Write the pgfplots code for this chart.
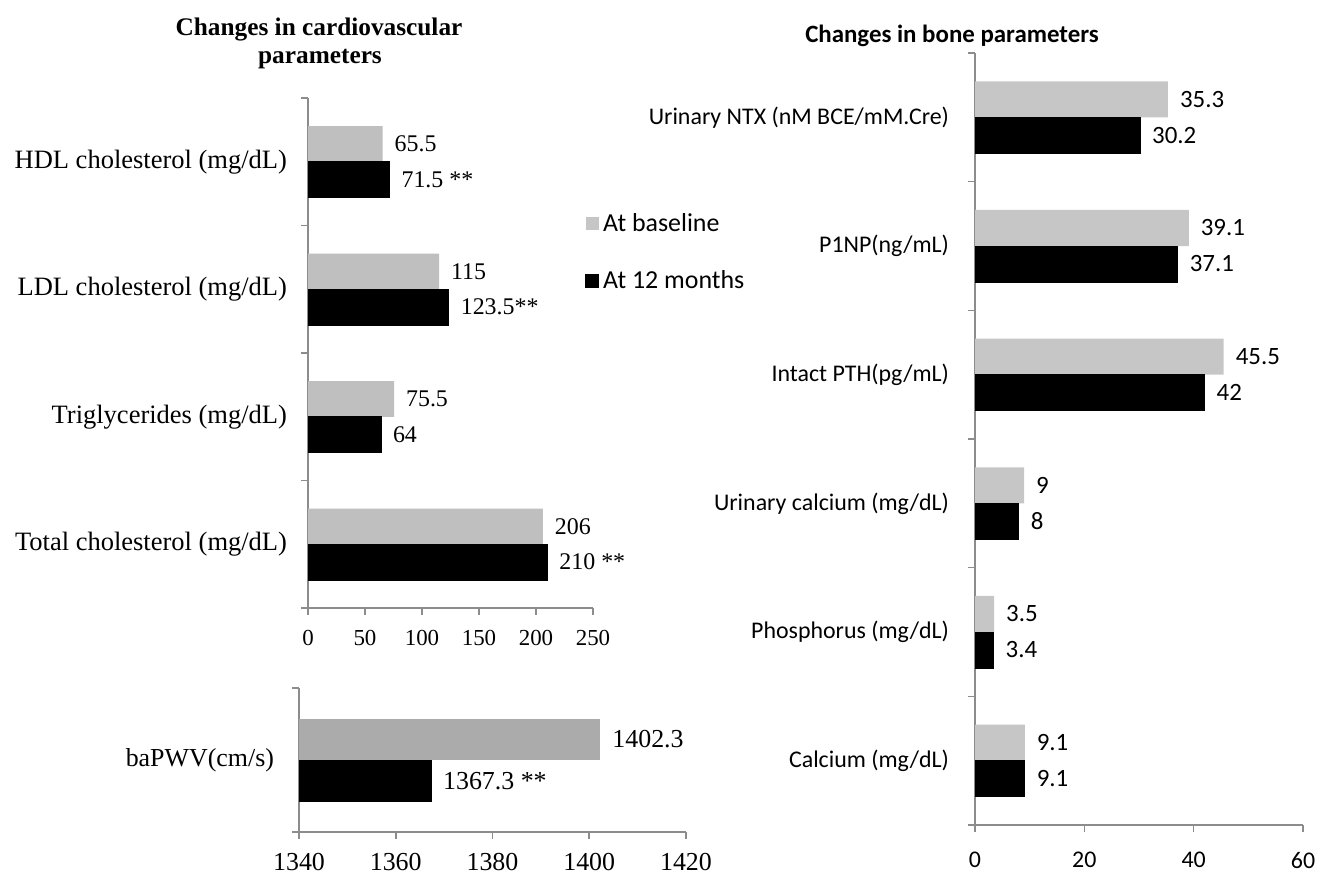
\documentclass[border=0pt]{standalone}
\usepackage{pgfplots}
\pgfplotsset{compat=1.18}
\usepackage{fontspec}
\setmainfont{Liberation Serif}
\newfontfamily\calibri{Carlito}
\definecolor{gA}{HTML}{BFBFBF}
\definecolor{gB}{HTML}{ABABAB}
\definecolor{gC}{HTML}{C6C6C6}
\definecolor{axgray}{HTML}{8C8C8C}
\pgfplotsset{
  mybase/.style={
    scale only axis, anchor=south west,
    axis lines*=left, axis line style={-, axgray, line width=0.8bp},
    tick style={axgray, line width=0.8bp}, tick align=outside, major tick length=3.5bp,
    /pgf/number format/assume math mode=true, /pgf/number format/1000 sep={},
    point meta=explicit symbolic, nodes near coords,
    nodes near coords style={anchor=west, xshift=2.5bp, text=black},
  }
}
\begin{document}
\begin{tikzpicture}
\path[use as bounding box] (0bp,0bp) rectangle (659.5bp,-437bp);
\node[anchor=base, font=\bfseries\fontsize{12.7}{15}\selectfont, inner sep=0] at (159.5bp,-17.5bp) {Changes in cardiovascular};
\node[anchor=base, font=\bfseries\fontsize{12.7}{15}\selectfont, inner sep=0] at (160bp,-31.5bp) {parameters};
\node[anchor=base, font=\calibri\bfseries\fontsize{12.5}{15}\selectfont, inner sep=0] at (476bp,-21bp) {Changes in bone parameters};

% cardiovascular
\begin{axis}[mybase, at={(154bp,-304bp)}, width=142.5bp, height=255bp,
  xmin=0, xmax=250, xtick={0,50,...,250},
  ymin=-0.5, ymax=3.5, ytick={-0.5,0.5,1.5,2.5,3.5}, yticklabels={},
  extra y ticks={0,1,2,3},
  extra y tick labels={Total cholesterol (mg/dL),Triglycerides (mg/dL),LDL cholesterol (mg/dL),HDL cholesterol (mg/dL)},
  extra y tick style={major tick length=0pt, yticklabel style={font=\fontsize{13.3}{16}\selectfont, xshift=-7bp}},
  xticklabel style={font=\fontsize{11.5}{14}\selectfont, yshift=-4bp},
  nodes near coords style={font=\fontsize{12}{14}\selectfont},
  clip=false]
\addplot[xbar, bar width=0.28, bar shift=0.14, fill=gA, draw=none,
  nodes near coords style={yshift=8.9bp}]
  coordinates {(206,0) [206] (75.5,1) [75.5] (115,2) [115] (65.5,3) [65.5]};
\addplot[xbar, bar width=0.28, bar shift=-0.14, fill=black, draw=black,
  nodes near coords style={yshift=-8.9bp}]
  coordinates {(210,0) [210 **] (64,1) [64] (123.5,2) [123.5**] (71.5,3) [71.5 **]};
\end{axis}

% baPWV
\begin{axis}[mybase, at={(149.5bp,-416bp)}, width=193.5bp, height=72bp,
  xmin=1340, xmax=1420, xtick={1340,1360,...,1420},
  ymin=-0.5, ymax=0.5, ytick={-0.5,0.5}, yticklabels={},
  extra y ticks={0}, extra y tick labels={baPWV(cm/s)},
  extra y tick style={major tick length=0pt, yticklabel style={font=\fontsize{13}{16}\selectfont, xshift=-9bp}},
  xticklabel style={font=\fontsize{13}{15}\selectfont, yshift=-3.8bp},
  nodes near coords style={font=\fontsize{13}{15}\selectfont},
  clip mode=individual]
\addplot[xbar, bar width=0.285, bar shift=0.143, fill=gB, draw=none,
  nodes near coords style={yshift=10.3bp}]
  coordinates {(1402.3,0) [1402.3]};
\addplot[xbar, bar width=0.285, bar shift=-0.143, fill=black, draw=black,
  nodes near coords style={yshift=-10.3bp}]
  coordinates {(1367.3,0) [1367.3 **]};
\end{axis}

% bone
\begin{axis}[mybase, at={(487.5bp,-412.5bp)}, width=164bp, height=386bp,
  xmin=0, xmax=60, xtick={0,20,40,60},
  ymin=-0.5, ymax=5.5, ytick={-0.5,0.5,1.5,2.5,3.5,4.5,5.5}, yticklabels={},
  extra y ticks={0,1,2,3,4,5},
  extra y tick labels={Calcium (mg/dL),Phosphorus (mg/dL),Urinary calcium (mg/dL),Intact PTH(pg/mL),P1NP(ng/mL),Urinary NTX (nM BCE/mM.Cre)},
  extra y tick style={major tick length=0pt, yticklabel style={font=\calibri\fontsize{12}{14}\selectfont, xshift=-9.5bp}},
  xticklabel style={font=\calibri\fontsize{12}{14}\selectfont, yshift=-6.5bp},
  nodes near coords style={font=\calibri\fontsize{12.5}{15}\selectfont},
  clip=false,
  legend image code/.code={\fill[#1] (0bp,-3.25bp) rectangle (6.5bp,3.25bp);},
  legend style={at={(-1.189,0.798)}, anchor=north west, draw=none, fill=none,
    font=\calibri\fontsize{13}{15}\selectfont, row sep=14bp, inner sep=0pt},
  legend cell align=left]
\addplot[xbar, bar width=0.28, bar shift=0.14, fill=gC, draw=none,
  nodes near coords style={yshift=9bp}]
  coordinates {(9.1,0) [9.1] (3.5,1) [3.5] (9,2) [9] (45.5,3) [45.5] (39.1,4) [39.1] (35.3,5) [35.3]};
\addlegendentry{At baseline}
\addplot[xbar, bar width=0.28, bar shift=-0.14, fill=black, draw=black,
  nodes near coords style={yshift=-9bp}]
  coordinates {(9.1,0) [9.1] (3.4,1) [3.4] (8,2) [8] (42,3) [42] (37.1,4) [37.1] (30.2,5) [30.2]};
\addlegendentry{At 12 months}
\end{axis}
\end{tikzpicture}
\end{document}
